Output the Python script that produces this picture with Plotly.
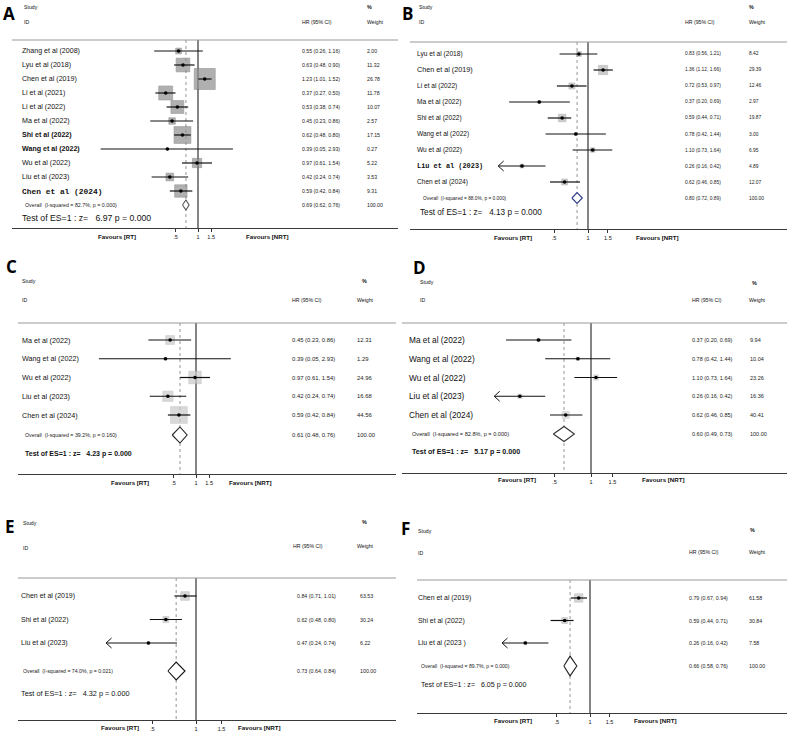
import math
import plotly.graph_objects as go

W, H = 793, 745

# ---------------- data ----------------
A_names = ["Zhang et al (2008)", "Lyu et al (2018)", "Chen et al (2019)", "Li et al (2021)",
           "Li et al (2022)", "Ma et al (2022)", "Shi et al (2022)", "Wang et al (2022)",
           "Wu et al (2022)", "Liu et al (2023)", "Chen et al (2024)"]
A_hr = [0.55, 0.63, 1.23, 0.37, 0.53, 0.45, 0.62, 0.39, 0.97, 0.42, 0.59]
A_lo = [0.26, 0.48, 1.01, 0.27, 0.38, 0.23, 0.48, 0.05, 0.61, 0.24, 0.42]
A_hi = [1.16, 0.90, 1.52, 0.50, 0.74, 0.86, 0.80, 2.93, 1.54, 0.74, 0.84]
A_wt = [2.00, 11.32, 26.78, 11.78, 10.07, 2.57, 17.15, 0.27, 5.22, 3.53, 9.31]
A_overall = [0.69, 0.62, 0.76]
A_i2, A_p, A_z = "82.7%", "0.000", "6.97"

B_names = ["Lyu et al (2018)", "Chen et al (2019)", "Li et al (2022)", "Ma et al (2022)",
           "Shi et al (2022)", "Wang et al (2022)", "Wu et al (2022)", "Liu et al (2023)",
           "Chen et al (2024)"]
B_hr = [0.83, 1.36, 0.72, 0.37, 0.59, 0.78, 1.10, 0.26, 0.62]
B_lo = [0.56, 1.12, 0.53, 0.20, 0.44, 0.42, 0.73, 0.16, 0.46]
B_hi = [1.21, 1.66, 0.97, 0.69, 0.71, 1.44, 1.64, 0.42, 0.85]
B_wt = [8.42, 29.39, 12.46, 2.97, 19.87, 3.00, 6.95, 4.89, 12.07]
B_overall = [0.80, 0.72, 0.89]
B_i2, B_p, B_z = "88.0%", "0.000", "4.13"

C_names = ["Ma et al (2022)", "Wang et al (2022)", "Wu et al (2022)", "Liu et al (2023)",
           "Chen et al (2024)"]
C_hr = [0.45, 0.39, 0.97, 0.42, 0.59]
C_lo = [0.23, 0.05, 0.61, 0.24, 0.42]
C_hi = [0.86, 2.93, 1.54, 0.74, 0.84]
C_wt = [12.31, 1.29, 24.96, 16.68, 44.56]
C_overall = [0.61, 0.48, 0.76]
C_i2, C_p, C_z = "39.2%", "0.160", "4.23"

D_names = ["Ma et al (2022)", "Wang et al (2022)", "Wu et al (2022)", "Liu et al (2023)",
           "Chen et al (2024)"]
D_hr = [0.37, 0.78, 1.10, 0.26, 0.62]
D_lo = [0.20, 0.42, 0.73, 0.16, 0.46]
D_hi = [0.69, 1.44, 1.64, 0.42, 0.85]
D_wt = [9.94, 10.04, 23.26, 16.36, 40.41]
D_overall = [0.60, 0.49, 0.73]
D_i2, D_p, D_z = "82.8%", "0.000", "5.17"

E_names = ["Chen et al (2019)", "Shi et al (2022)", "Liu et al (2023)"]
E_hr = [0.84, 0.62, 0.47]
E_lo = [0.71, 0.48, 0.24]
E_hi = [1.01, 0.80, 0.74]
E_wt = [63.53, 30.24, 6.22]
E_overall = [0.73, 0.64, 0.84]
E_i2, E_p, E_z = "74.0%", "0.021", "4.32"

F_names = ["Chen et al (2019)", "Shi et al (2022)", "Liu et al (2023 )"]
F_hr = [0.79, 0.59, 0.26]
F_lo = [0.67, 0.44, 0.16]
F_hi = [0.94, 0.71, 0.42]
F_wt = [61.58, 30.84, 7.58]
F_overall = [0.66, 0.58, 0.76]
F_i2, F_p, F_z = "89.7%", "0.000", "6.05"

TICK_VALS = [0.5, 1, 1.5]
TICK_TEXT = [".5", "1", "1.5"]

# ---------------- layout / style per panel ----------------
SANS = "Liberation Sans, Arial, sans-serif"
MONO = "Liberation Mono, Courier New, monospace"

PANELS = [
    dict(letter="A", names=A_names, hr=A_hr, lo=A_lo, hi=A_hi, wt=A_wt, ov=A_overall,
         i2=A_i2, p=A_p, z=A_z,
         xl=12, xr=398, top=40, bot=228, px1=198, s=32.5, row1=51, sp=14.0, ov_px=205,
         test_px=218, tick_px=236, name_x=20, hr_x=300, wt_x=365, ovtxt_x=23, test_x=20,
         lab=(9, 13), study=(22, 7), idy=22, hdr_hr=(300, 22), pct=(365, 7), wgt=(365, 22),
         fav_rt=117, fav_nrt=267,
         name_fs=7.1, hr_fs=5.2, ov_fs=5.3, test_fs=8.7, test_bold=False,
         box_k=4.06, box_col="#8f8f8f", box_edge="#6a6a6a", dia_h=0.36, dia_col="#555555",
         arrows=[], special={6: dict(bold=True), 7: dict(bold=True),
                             10: dict(mono=True, bold=True, fs=7.9)}),
    dict(letter="B", names=B_names, hr=B_hr, lo=B_lo, hi=B_hi, wt=B_wt, ov=B_overall,
         i2=B_i2, p=B_p, z=B_z,
         xl=410, xr=787, top=42, bot=229, px1=588, s=49, row1=54, sp=16.0, ov_px=198,
         test_px=213, tick_px=237, name_x=415, hr_x=683, wt_x=747, ovtxt_x=421, test_x=418,
         lab=(407, 13), study=(417, 7), idy=22, hdr_hr=(683, 22), pct=(747, 7), wgt=(747, 22),
         fav_rt=513, fav_nrt=657,
         name_fs=6.6, hr_fs=4.9, ov_fs=4.8, test_fs=8.2, test_bold=False,
         box_k=1.7, box_col="#b7b7b7", box_edge="#9a9a9a", dia_h=0.34, dia_col="#2d3b8c",
         arrows=[7], special={1: dict(fs=7.2), 7: dict(mono=True, bold=True, fs=6.9)}),
    dict(letter="C", names=C_names, hr=C_hr, lo=C_lo, hi=C_hi, wt=C_wt, ov=C_overall,
         i2=C_i2, p=C_p, z=C_z,
         xl=18, xr=396, top=323, bot=474, px1=196, s=32.4, row1=340, sp=18.75, ov_px=435,
         test_px=454, tick_px=482, name_x=20, hr_x=290, wt_x=355, ovtxt_x=23, test_x=23,
         lab=(11, 266), study=(20, 281), idy=300, hdr_hr=(290, 300), pct=(360, 281),
         wgt=(355, 300), fav_rt=130, fav_nrt=250,
         name_fs=7.2, hr_fs=5.9, ov_fs=5.3, test_fs=7.0, test_bold=True,
         box_k=2.5, box_col="#cacaca", box_edge="#b0b0b0", dia_h=0.43, dia_col="#222222",
         arrows=[], special={}),
    dict(letter="D", names=D_names, hr=D_hr, lo=D_lo, hi=D_hi, wt=D_wt, ov=D_overall,
         i2=D_i2, p=D_p, z=D_z,
         xl=402, xr=787, top=323, bot=473, px1=591, s=52.8, row1=340, sp=18.75, ov_px=434,
         test_px=452, tick_px=480, name_x=407, hr_x=690, wt_x=748, ovtxt_x=410, test_x=410,
         lab=(419, 267), study=(418, 282), idy=300, hdr_hr=(690, 300), pct=(750, 283),
         wgt=(747, 300), fav_rt=517, fav_nrt=663,
         name_fs=8.3, hr_fs=5.5, ov_fs=5.6, test_fs=7.1, test_bold=True,
         box_k=1.1, box_col="#d2d2d2", box_edge="#c0c0c0", dia_h=0.40, dia_col="#333333",
         arrows=[3], special={}),
    dict(letter="E", names=E_names, hr=E_hr, lo=E_lo, hi=E_hi, wt=E_wt, ov=E_overall,
         i2=E_i2, p=E_p, z=E_z,
         xl=18, xr=396, top=578, bot=720, px1=196, s=63, row1=596, sp=23.5, ov_px=671,
         test_px=693, tick_px=727, name_x=19, hr_x=295, wt_x=358, ovtxt_x=21, test_x=19,
         lab=(10, 526), study=(21, 523), idy=548, hdr_hr=(291, 546), pct=(360, 522),
         wgt=(355, 546), fav_rt=120, fav_nrt=259,
         name_fs=7.0, hr_fs=5.3, ov_fs=5.2, test_fs=7.3, test_bold=False,
         box_k=1.08, box_col="#c4c4c4", box_edge="#a8a8a8", dia_h=0.38, dia_col="#111111",
         arrows=[2], special={}),
    dict(letter="F", names=F_names, hr=F_hr, lo=F_lo, hi=F_hi, wt=F_wt, ov=F_overall,
         i2=F_i2, p=F_p, z=F_z,
         xl=417, xr=787, top=580, bot=713, px1=590, s=48, row1=598, sp=22.5, ov_px=666,
         test_px=685, tick_px=720, name_x=416, hr_x=687, wt_x=747, ovtxt_x=419, test_x=419,
         lab=(405, 528), study=(416, 531), idy=553, hdr_hr=(687, 552), pct=(748, 530),
         wgt=(747, 552), fav_rt=513, fav_nrt=655,
         name_fs=6.9, hr_fs=5.3, ov_fs=5.1, test_fs=7.1, test_bold=False,
         box_k=1.06, box_col="#c4c4c4", box_edge="#a8a8a8", dia_h=0.44, dia_col="#222222",
         arrows=[2], special={}),
]

fig = go.Figure()
annotations = []
shapes = []


def px_x(p):
    return p / W


def px_y(p):
    return 1 - p / H


def ann(x, y, text, size, yref="paper", xanchor="left", color="#111", family=SANS):
    annotations.append(dict(x=x, y=y, xref="paper", yref=yref, text=text, showarrow=False,
                            xanchor=xanchor, yanchor="middle",
                            font=dict(size=size, color=color, family=family)))


for k, P in enumerate(PANELS):
    sfx = "" if k == 0 else str(k + 1)
    xa, ya = "x" + sfx, "y" + sfx
    n = len(P["names"])
    L = math.log(10) * P["s"]
    xrange = [(P["xl"] - P["px1"]) / L, (P["xr"] - P["px1"]) / L]
    row_of = lambda px: 1 + (px - P["row1"]) / P["sp"]
    r_top, r_bot = row_of(P["top"]), row_of(P["bot"])

    fig.update_layout(**{
        "xaxis" + sfx: dict(domain=[px_x(P["xl"]), px_x(P["xr"])], type="log", range=xrange,
                            anchor=ya, showgrid=False, zeroline=False, showline=True,
                            linecolor="#3a3a3a", linewidth=1.3, ticks="outside", ticklen=3,
                            tickwidth=0.8, tickcolor="#333", tickvals=TICK_VALS,
                            ticktext=TICK_TEXT,
                            tickfont=dict(size=5.5, family=SANS, color="#111")),
        "yaxis" + sfx: dict(domain=[px_y(P["bot"]), px_y(P["top"])], range=[r_bot, r_top],
                            anchor=xa, visible=False, showgrid=False, zeroline=False),
    })

    rows = list(range(1, n + 1))
    ov_row = row_of(P["ov_px"])
    est, olo, ohi = P["ov"]

    # reference lines
    fig.add_trace(go.Scatter(x=[1, 1], y=[r_top, r_bot], mode="lines", xaxis=xa, yaxis=ya,
                             line=dict(color="#333", width=1.2), hoverinfo="skip",
                             showlegend=False))
    fig.add_trace(go.Scatter(x=[est, est], y=[r_top, r_bot], mode="lines", xaxis=xa, yaxis=ya,
                             line=dict(color="#8a8a8a", width=0.9, dash="dot"),
                             hoverinfo="skip", showlegend=False))

    # weight boxes
    fig.add_trace(go.Scatter(x=P["hr"], y=rows, mode="markers", xaxis=xa, yaxis=ya,
                             marker=dict(symbol="square",
                                         size=[P["box_k"] * math.sqrt(w) for w in P["wt"]],
                                         color=P["box_col"],
                                         line=dict(color=P["box_edge"], width=0.6)),
                             hoverinfo="skip", showlegend=False))
    # CI lines
    cx, cy = [], []
    for i in range(n):
        cx += [P["lo"][i], P["hi"][i], None]
        cy += [rows[i], rows[i], None]
    fig.add_trace(go.Scatter(x=cx, y=cy, mode="lines", xaxis=xa, yaxis=ya,
                             line=dict(color="#111", width=1.2), hoverinfo="skip",
                             showlegend=False))
    # arrows for truncated CIs
    for i in P["arrows"]:
        tip = P["lo"][i]
        f = math.exp(5.5 / P["s"])
        hh = 5.0 / P["sp"]
        fig.add_trace(go.Scatter(x=[tip * f, tip, tip * f], y=[rows[i] - hh, rows[i], rows[i] + hh],
                                 mode="lines", xaxis=xa, yaxis=ya,
                                 line=dict(color="#111", width=1.0), hoverinfo="skip",
                                 showlegend=False))
    # point estimates
    fig.add_trace(go.Scatter(x=P["hr"], y=rows, mode="markers", xaxis=xa, yaxis=ya,
                             marker=dict(symbol="circle", size=3.6, color="#000"),
                             hoverinfo="skip", showlegend=False))
    # overall diamond
    h = P["dia_h"]
    fig.add_trace(go.Scatter(x=[olo, est, ohi, est, olo], y=[ov_row, ov_row - h, ov_row, ov_row + h, ov_row],
                             mode="lines", fill="toself", fillcolor="white", xaxis=xa, yaxis=ya,
                             line=dict(color=P["dia_col"], width=1.1), hoverinfo="skip",
                             showlegend=False))

    # top rule
    shapes.append(dict(type="line", xref="paper", yref="paper", x0=px_x(P["xl"]),
                       x1=px_x(P["xr"]), y0=px_y(P["top"]), y1=px_y(P["top"]),
                       line=dict(color="#9a9a9a", width=1.2)))

    # study texts
    for i in range(n):
        sp = P["special"].get(i, {})
        fam = MONO if sp.get("mono") else SANS
        fs = sp.get("fs", P["name_fs"])
        txt = P["names"][i].replace(" ", "\u00a0")
        if sp.get("bold"):
            txt = "<b>" + txt + "</b>"
        annotations.append(dict(x=px_x(P["name_x"]), y=rows[i], xref="paper", yref=ya, text=txt,
                                showarrow=False, xanchor="left", yanchor="middle",
                                font=dict(size=fs, family=fam, color="#111")))
        hr_txt = "%.2f (%.2f, %.2f)" % (P["hr"][i], P["lo"][i], P["hi"][i])
        annotations.append(dict(x=px_x(P["hr_x"]), y=rows[i], xref="paper", yref=ya,
                                text=hr_txt, showarrow=False, xanchor="left", yanchor="middle",
                                font=dict(size=P["hr_fs"], family=SANS, color="#222")))
        annotations.append(dict(x=px_x(P["wt_x"]), y=rows[i], xref="paper", yref=ya,
                                text="%.2f" % P["wt"][i], showarrow=False, xanchor="left",
                                yanchor="middle",
                                font=dict(size=P["hr_fs"], family=SANS, color="#222")))
    # overall row
    ov_txt = "Overall\u00a0\u00a0(I-squared\u00a0=\u00a0%s,\u00a0p\u00a0=\u00a0%s)" % (P["i2"], P["p"])
    annotations.append(dict(x=px_x(P["ovtxt_x"]), y=ov_row, xref="paper", yref=ya, text=ov_txt,
                            showarrow=False, xanchor="left", yanchor="middle",
                            font=dict(size=P["ov_fs"], family=SANS, color="#222")))
    ov_hr = "%.2f (%.2f, %.2f)" % (est, olo, ohi)
    annotations.append(dict(x=px_x(P["hr_x"]), y=ov_row, xref="paper", yref=ya, text=ov_hr,
                            showarrow=False, xanchor="left", yanchor="middle",
                            font=dict(size=P["hr_fs"], family=SANS, color="#222")))
    annotations.append(dict(x=px_x(P["wt_x"]), y=ov_row, xref="paper", yref=ya, text="100.00",
                            showarrow=False, xanchor="left", yanchor="middle",
                            font=dict(size=P["hr_fs"], family=SANS, color="#222")))
    # test of ES
    test_txt = "Test of ES=1 : z=\u00a0\u00a0\u00a0%s p = %s" % (P["z"], "0.000")
    if P["test_bold"]:
        test_txt = "<b>" + test_txt + "</b>"
    ann(px_x(P["test_x"]), px_y(P["test_px"]), test_txt, P["test_fs"])

    # headers
    ann(px_x(P["study"][0]), px_y(P["study"][1]), "Study", 5.2)
    ann(px_x(P["study"][0]), px_y(P["idy"]), "ID", 5.2)
    ann(px_x(P["hdr_hr"][0]), px_y(P["hdr_hr"][1]), "HR (95% CI)", 5.2)
    ann(px_x(P["pct"][0]), px_y(P["pct"][1]), "<b>%</b>", 5.4)
    ann(px_x(P["wgt"][0]), px_y(P["wgt"][1]), "Weight", 5.2)
    # favours
    ann(px_x(P["fav_rt"]), px_y(P["tick_px"]), "<b>Favours [RT]</b>", 6.2, xanchor="center")
    ann(px_x(P["fav_nrt"]), px_y(P["tick_px"]), "<b>Favours [NRT]</b>", 6.2, xanchor="center")
    # panel letter
    ann(px_x(P["lab"][0]), px_y(P["lab"][1]), "<b>%s</b>" % P["letter"], 17, xanchor="center",
        color="#000", family="Open Sans, Liberation Sans, sans-serif")

fig.update_layout(width=W, height=H, margin=dict(l=0, r=0, t=0, b=0),
                  paper_bgcolor="white", plot_bgcolor="rgba(0,0,0,0)",
                  annotations=annotations, shapes=shapes, showlegend=False)

fig.write_html("out.html")
